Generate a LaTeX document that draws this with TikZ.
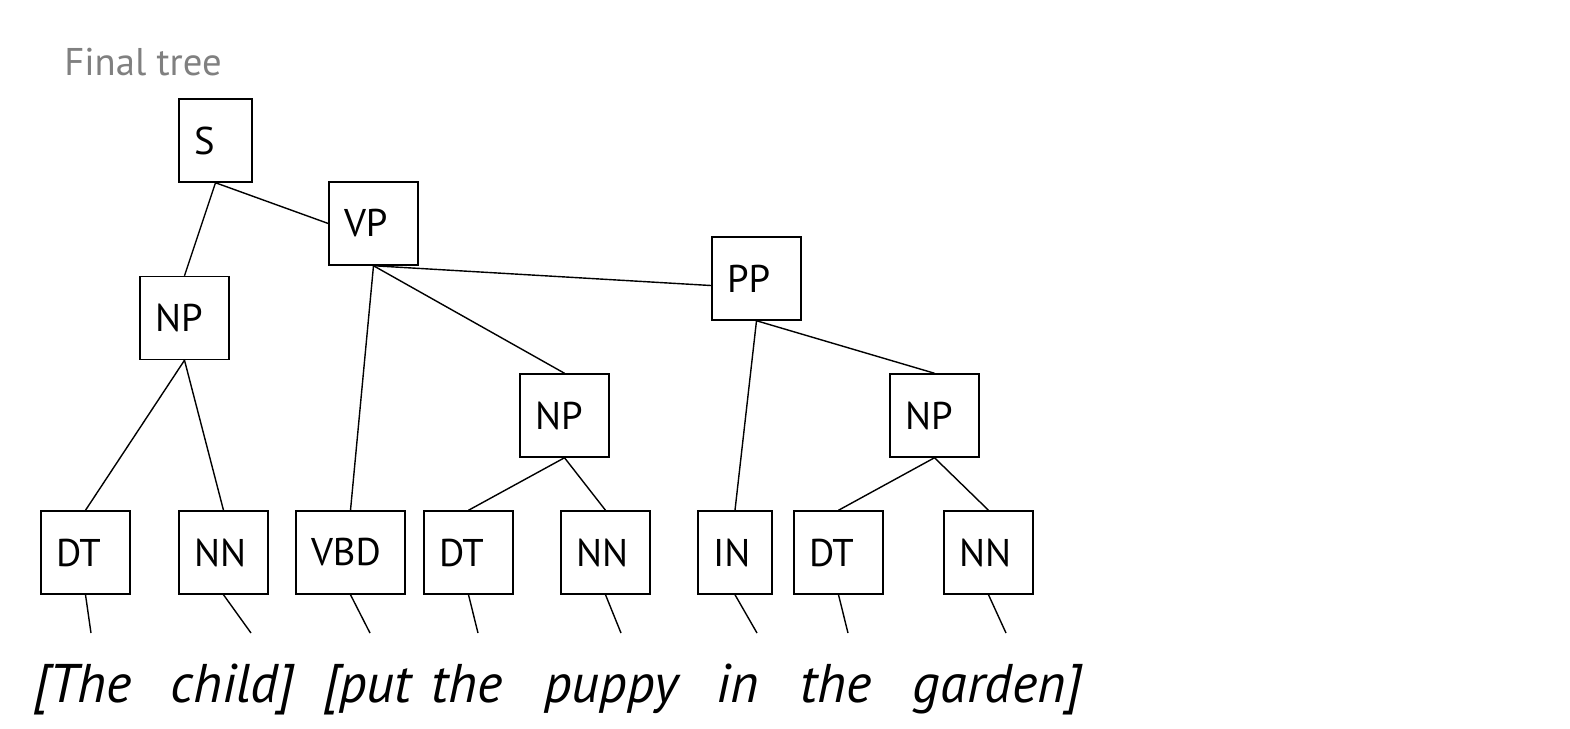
\documentclass[tikz,border=0pt]{standalone}
\usepackage{fontspec}
\setmainfont{PT Sans}
\begin{document}
\begin{tikzpicture}[x=0.02cm,y=-0.02cm,
  box/.style={draw,line width=0.85pt,inner xsep=0.3cm,inner ysep=0pt,minimum height=1.66cm,text width=1.18cm,align=left,font=\fontsize{22}{26}\selectfont},
  edge/.style={line width=0.8pt},
  word/.style={anchor=base,inner sep=0pt,font=\fontsize{31}{36}\selectfont\itshape},
  title/.style={anchor=base west,inner sep=0pt,text=black!50,font=\fontsize{22}{26}\selectfont}]
\fill[white] (0,0) rectangle (1570,728);
\useasboundingbox (0,0) rectangle (1570,728);
\node[title] (title) at (64,75) {Final tree};
% internal nodes
\node[box,text width=0.86cm] (S) at (215.5,140.5) {S};
\node[box] (VP) at (373.5,223.5) {VP};
\node[box] (NP1) at (184.5,318) {NP};
\node[box] (PP) at (756.5,278.5) {PP};
\node[box] (NP2) at (564.5,415.5) {NP};
\node[box] (NP3) at (934.5,415.5) {NP};
% preterminals
\node[box] (DT1) at (85.5,552.5) {DT};
\node[box] (NN1) at (223.5,552.5) {NN};
\node[box,text width=1.58cm] (VBD) at (350.5,552.5) {VBD};
\node[box,text width=0.88cm] (IN) at (735,552.5) {IN};
\node[box] (DT2) at (468.5,552.5) {DT};
\node[box] (NN2) at (605.5,552.5) {NN};
\node[box] (DT3) at (838.5,552.5) {DT};
\node[box] (NN3) at (988.5,552.5) {NN};
% edges
\draw[edge] (S.south) -- (NP1.north);
\draw[edge] (S.south) -- (VP.west);
\draw[edge] (VP.south) -- (VBD.north);
\draw[edge] (VP.south) -- (NP2.north);
\draw[edge] (VP.south) -- ([yshift=-4pt]PP.west);
\draw[edge] (NP1.south) -- (DT1.north);
\draw[edge] (NP1.south) -- (NN1.north);
\draw[edge] (PP.south) -- (IN.north);
\draw[edge] (PP.south) -- (NP3.north);
\draw[edge] (NP2.south) -- (DT2.north);
\draw[edge] (NP2.south) -- (NN2.north);
\draw[edge] (NP3.south) -- (DT3.north);
\draw[edge] (NP3.south) -- (NN3.north);
% leaf stubs
\coordinate (e1) at (91,633);
\coordinate (e2) at (251,633);
\coordinate (e3) at (370,633);
\coordinate (e4) at (478,633);
\coordinate (e5) at (621,633);
\coordinate (e6) at (757,633);
\coordinate (e7) at (848,633);
\coordinate (e8) at (1006,633);
\draw[edge] (DT1.south) -- (e1);
\draw[edge] (NN1.south) -- (e2);
\draw[edge] (VBD.south) -- (e3);
\draw[edge] (DT2.south) -- (e4);
\draw[edge] (NN2.south) -- (e5);
\draw[edge] (IN.south) -- (e6);
\draw[edge] (DT3.south) -- (e7);
\draw[edge] (NN3.south) -- (e8);
% words
\node[word] (w1) at (82.5,702) {[The};
\node[word] (w2) at (232.5,702) {child]};
\node[word] (w3) at (367.5,702) {[put};
\node[word] (w4) at (467,702) {the};
\node[word] (w5) at (611,702) {puppy};
\node[word] (w6) at (738,702) {in};
\node[word] (w7) at (836,702) {the};
\node[word] (w8) at (997.5,702) {garden]};
\end{tikzpicture}
\end{document}
